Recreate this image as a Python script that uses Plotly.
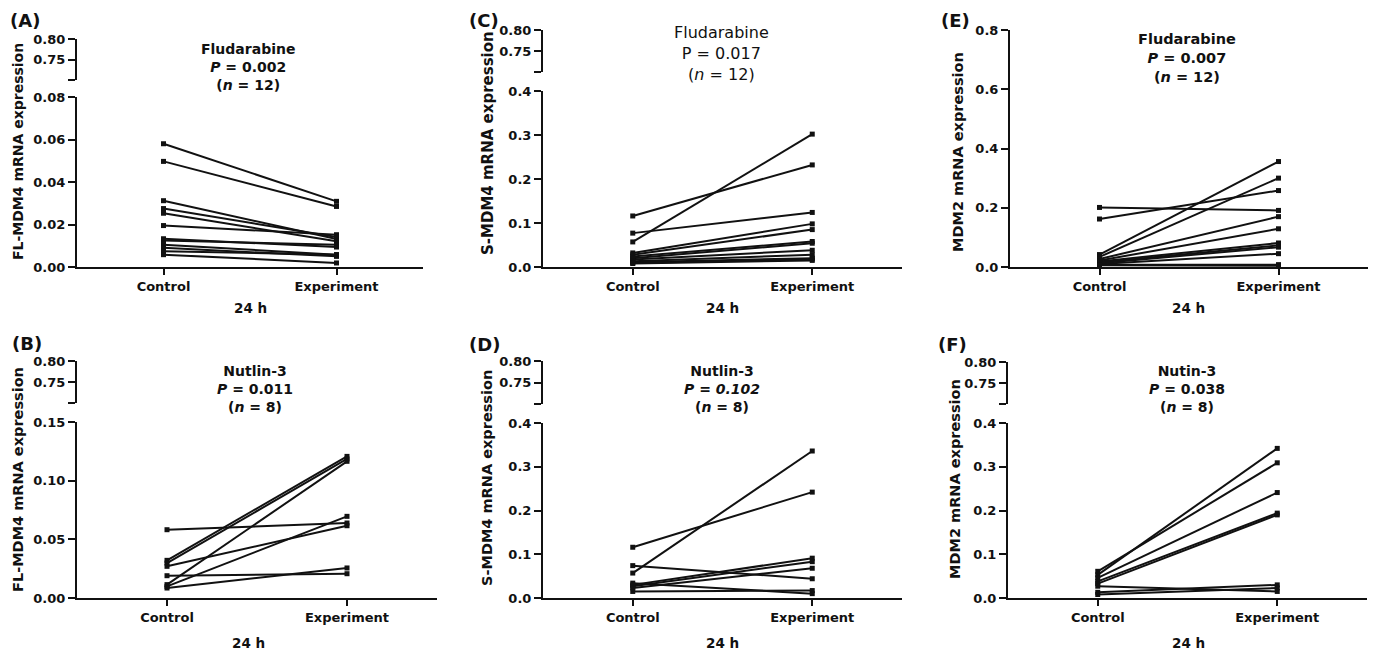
import plotly.graph_objects as go

W, H = 1373, 651

# ---------------- data ----------------
categories = ["Control", "Experiment"]

# (A) FL-MDM4, Fludarabine
a_control = [0.058, 0.0497, 0.0312, 0.0275, 0.0253, 0.0195, 0.0133, 0.0125, 0.0105, 0.009, 0.0074, 0.0058]
a_experiment = [0.0309, 0.0285, 0.0132, 0.0141, 0.0121, 0.0152, 0.0094, 0.0105, 0.0058, 0.005, 0.0058, 0.0019]

# (C) S-MDM4, Fludarabine
c_control = [0.057, 0.116, 0.077, 0.032, 0.028, 0.024, 0.020, 0.017, 0.013, 0.011, 0.009, 0.008]
c_experiment = [0.302, 0.232, 0.124, 0.098, 0.085, 0.058, 0.054, 0.038, 0.028, 0.020, 0.018, 0.015]

# (E) MDM2, Fludarabine
e_control = [0.201, 0.162, 0.042, 0.034, 0.027, 0.022, 0.019, 0.016, 0.013, 0.010, 0.008, 0.006]
e_experiment = [0.191, 0.258, 0.356, 0.300, 0.170, 0.129, 0.081, 0.073, 0.067, 0.045, 0.008, 0.004]

# (B) FL-MDM4, Nutlin-3
b_control = [0.0582, 0.0321, 0.0298, 0.0114, 0.027, 0.0099, 0.019, 0.0085]
b_experiment = [0.0639, 0.1207, 0.1185, 0.1165, 0.0616, 0.0696, 0.0207, 0.0256]

# (D) S-MDM4, Nutlin-3
d_control = [0.057, 0.116, 0.074, 0.030, 0.027, 0.023, 0.034, 0.015]
d_experiment = [0.336, 0.242, 0.044, 0.091, 0.083, 0.068, 0.010, 0.017]

# (F) MDM2, Nutin-3
f_control = [0.053, 0.061, 0.046, 0.038, 0.033, 0.027, 0.013, 0.008]
f_experiment = [0.342, 0.309, 0.241, 0.194, 0.190, 0.015, 0.030, 0.023]

# ---------------- layout helpers ----------------
def fx(px):
    return px / W

def fy(py):
    return 1 - py / H

FONT = "DejaVu Sans"
INK = "#111111"

panels = [
    dict(label="(A)", ctrl=a_control, exp=a_experiment, ytitle="FL-MDM4 mRNA expression",
         title="Fludarabine<br><i>P</i> = 0.002<br>(<i>n</i> = 12)",
         ax=77, xend=423, y0=267, ytop=97, ymax=0.08, dtick=0.02, fmt=".2f", brk=(39, 80),
         lab=(25, 21), yt=(18, 152, 14), tt=(248, 67, 14, "bold"), xt=(250, 308)),
    dict(label="(C)", ctrl=c_control, exp=c_experiment, ytitle="S-MDM4 mRNA expression",
         title="Fludarabine<br>P = 0.017<br>(<i>n</i> = 12)",
         ax=543, xend=902, y0=267, ytop=91, ymax=0.4, dtick=0.1, fmt=".1f", brk=(30, 72),
         lab=(484, 21), yt=(488, 143, 15), tt=(721, 54, 16, "normal"), xt=(723, 308)),
    dict(label="(E)", ctrl=e_control, exp=e_experiment, ytitle="MDM2 mRNA expression",
         title="Fludarabine<br><i>P</i> = 0.007<br>(<i>n</i> = 12)",
         ax=1010, xend=1368, y0=267, ytop=30, ymax=0.8, dtick=0.2, fmt=".1f", brk=None,
         lab=(956, 20), yt=(958, 152, 14.5), tt=(1187, 58, 14.5, "bold"), xt=(1188, 308)),
    dict(label="(B)", ctrl=b_control, exp=b_experiment, ytitle="FL-MDM4 mRNA expression",
         title="Nutlin-3<br><i>P</i> = 0.011<br>(<i>n</i> = 8)",
         ax=77, xend=437, y0=598, ytop=422, ymax=0.15, dtick=0.05, fmt=".2f", brk=(361, 403),
         lab=(27, 343), yt=(18, 480, 14.5), tt=(255, 389, 14, "bold"), xt=(248, 643)),
    dict(label="(D)", ctrl=d_control, exp=d_experiment, ytitle="S-MDM4 mRNA expression",
         title="Nutlin-3<br><i>P = 0.102</i><br>(<i>n</i> = 8)",
         ax=543, xend=902, y0=598, ytop=423, ymax=0.4, dtick=0.1, fmt=".1f", brk=(361, 404),
         lab=(484, 344), yt=(487, 478, 14.5), tt=(722, 389, 14, "bold"), xt=(722, 643)),
    dict(label="(F)", ctrl=f_control, exp=f_experiment, ytitle="MDM2 mRNA expression",
         title="Nutin-3<br><i>P</i> = 0.038<br>(<i>n</i> = 8)",
         ax=1008, xend=1367, y0=598, ytop=423, ymax=0.4, dtick=0.1, fmt=".1f", brk=(362, 404),
         lab=(952, 344), yt=(955, 479, 14.5), tt=(1187, 389, 14, "bold"), xt=(1188, 643)),
]

fig = go.Figure()
layout = dict(
    template="none",
    width=W, height=H, autosize=False,
    margin=dict(l=0, r=0, t=0, b=0, pad=0),
    paper_bgcolor="white", plot_bgcolor="white",
    font=dict(family=FONT, size=13, color=INK, weight="bold"),
    showlegend=False,
)
annotations = []

axis_common = dict(
    showline=True, linecolor=INK, linewidth=2, ticks="outside", ticklen=7,
    tickwidth=2, tickcolor=INK, showgrid=False, zeroline=False, fixedrange=True,
    automargin=False,
    tickfont=dict(family=FONT, size=13, color=INK, weight="bold"),
)

upper_idx = len(panels) + 1
for i, p in enumerate(panels, start=1):
    xs = "" if i == 1 else str(i)
    xname, yname = "x" + xs, "y" + xs

    xv, yv = [], []
    for c, e in zip(p["ctrl"], p["exp"]):
        xv += [0, 1, None]
        yv += [c, e, None]
    fig.add_trace(go.Scatter(
        x=xv, y=yv, mode="lines+markers", xaxis=xname, yaxis=yname,
        line=dict(color=INK, width=2),
        marker=dict(symbol="square", size=5, color=INK),
        cliponaxis=False, hoverinfo="skip", connectgaps=False,
    ))

    layout["xaxis" + xs] = dict(
        axis_common, domain=[fx(p["ax"]), fx(p["xend"])], range=[-0.5, 1.5],
        tickvals=[0, 1], ticktext=categories, anchor=yname, ticklen=6,
    )
    ntick = int(round(p["ymax"] / p["dtick"]))
    tv = [k * p["dtick"] for k in range(ntick + 1)]
    layout["yaxis" + xs] = dict(
        axis_common, domain=[fy(p["y0"]), fy(p["ytop"])], range=[0, p["ymax"]],
        tickvals=tv, tickformat=p["fmt"], anchor=xname,
    )

    if p["brk"] is not None:
        us = str(upper_idx)
        upper_idx += 1
        top, bot = p["brk"]
        layout["yaxis" + us] = dict(
            axis_common, domain=[fy(bot), fy(top)], range=[0.70, 0.80],
            tickvals=[0.70, 0.75, 0.80], ticktext=["", "0.75", "0.80"], anchor=xname,
        )
        fig.add_trace(go.Scatter(x=[None], y=[None], xaxis=xname, yaxis="y" + us,
                                 mode="markers", hoverinfo="skip", showlegend=False))

    # panel label
    annotations.append(dict(
        text=p["label"], x=fx(p["lab"][0]), y=fy(p["lab"][1]), xref="paper", yref="paper",
        xanchor="center", yanchor="middle", showarrow=False,
        font=dict(family=FONT, size=18, color=INK, weight="bold"),
    ))
    # y-axis title
    annotations.append(dict(
        text=p["ytitle"], x=fx(p["yt"][0]), y=fy(p["yt"][1]), xref="paper", yref="paper",
        xanchor="center", yanchor="middle", textangle=-90, showarrow=False,
        font=dict(family=FONT, size=p["yt"][2], color=INK, weight="bold"),
    ))
    # in-plot title block
    annotations.append(dict(
        text=p["title"], x=fx(p["tt"][0]), y=fy(p["tt"][1]), xref="paper", yref="paper",
        xanchor="center", yanchor="middle", align="center", showarrow=False,
        font=dict(family=FONT, size=p["tt"][2], color=INK, weight=p["tt"][3]),
    ))
    # x-axis title
    annotations.append(dict(
        text="24 h", x=fx(p["xt"][0]), y=fy(p["xt"][1]), xref="paper", yref="paper",
        xanchor="center", yanchor="middle", showarrow=False,
        font=dict(family=FONT, size=13.5, color=INK, weight="bold"),
    ))

layout["annotations"] = annotations
fig.update_layout(**layout)
fig.write_html(
    "out.html",
    config={"displayModeBar": False},
    post_script="document.body.style.margin='0';document.body.style.padding='0';"
                "document.body.style.overflow='hidden';",
)
